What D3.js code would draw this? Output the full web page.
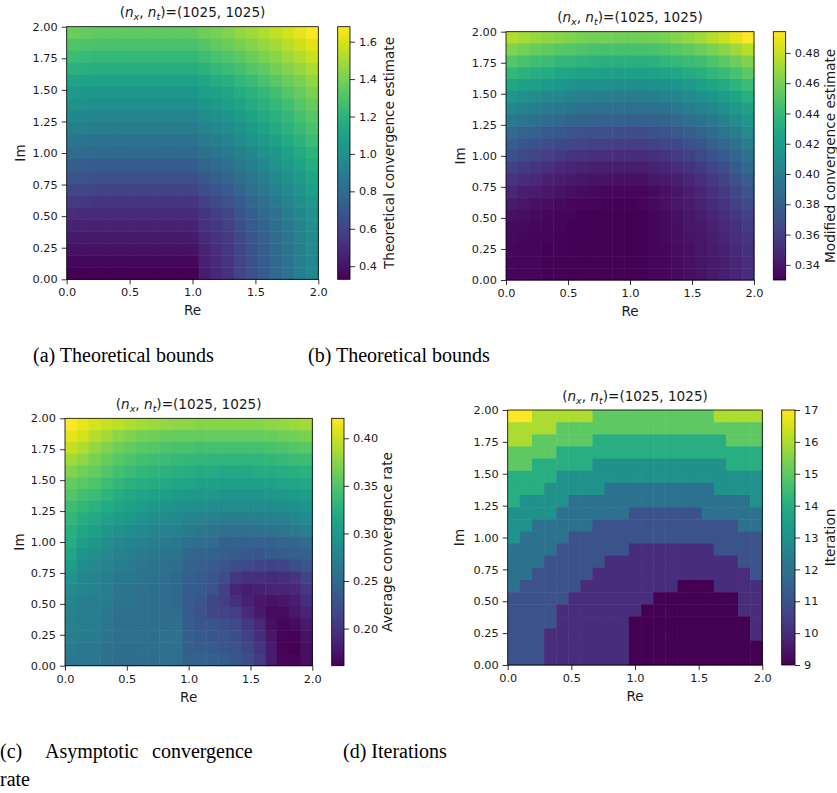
<!DOCTYPE html>
<html>
<head>
<meta charset="utf-8">
<script src="https://cdn.jsdelivr.net/npm/d3@7"></script>
<style>
body { margin: 0; background: #fff; }
svg text { font-family: "DejaVu Sans", sans-serif; fill: #1a1a1a; }
text.cap { font-family: "Liberation Serif", serif; font-size: 20px; fill: #000; }
</style>
</head>
<body>
<script>
// grid: Re along columns, Im along rows (first row = Im 2.0)
var reVals = [0.0, 0.1, 0.2, 0.3, 0.4, 0.5, 0.6, 0.7, 0.8, 0.9, 1.0, 1.1, 1.2, 1.3, 1.4, 1.5, 1.6, 1.7, 1.8, 1.9, 2.0]
var imVals = [2.0, 1.9, 1.8, 1.7, 1.6, 1.5, 1.4, 1.3, 1.2, 1.1, 1.0, 0.9, 0.8, 0.7, 0.6, 0.5, 0.4, 0.3, 0.2, 0.1, 0.0]
var reTicks = [0, 0.5, 1, 1.5, 2]
var imTicks = [0, 0.25, 0.5, 0.75, 1, 1.25, 1.5, 1.75, 2]

var theoretical = [
 [1.37,1.36,1.35,1.35,1.35,1.35,1.35,1.35,1.35,1.35,1.35,1.38,1.40,1.42,1.46,1.49,1.52,1.55,1.59,1.63,1.68],
 [1.31,1.30,1.29,1.29,1.29,1.29,1.29,1.29,1.29,1.29,1.29,1.32,1.35,1.37,1.40,1.43,1.46,1.50,1.54,1.58,1.62],
 [1.25,1.24,1.23,1.23,1.23,1.23,1.23,1.23,1.23,1.23,1.23,1.26,1.29,1.31,1.34,1.37,1.41,1.44,1.48,1.52,1.57],
 [1.19,1.18,1.17,1.17,1.17,1.17,1.17,1.17,1.17,1.17,1.17,1.20,1.23,1.25,1.28,1.32,1.35,1.39,1.43,1.47,1.51],
 [1.12,1.11,1.10,1.10,1.10,1.10,1.10,1.10,1.10,1.10,1.10,1.13,1.16,1.18,1.22,1.25,1.29,1.33,1.37,1.41,1.45],
 [1.06,1.05,1.04,1.04,1.04,1.04,1.04,1.04,1.04,1.04,1.04,1.08,1.10,1.12,1.16,1.20,1.23,1.27,1.32,1.36,1.41],
 [1.01,1.00,0.99,0.99,0.99,0.99,0.99,0.99,0.99,0.99,0.99,1.03,1.05,1.08,1.11,1.15,1.19,1.23,1.27,1.32,1.36],
 [0.96,0.95,0.94,0.94,0.94,0.94,0.94,0.94,0.94,0.94,0.94,0.98,1.00,1.03,1.07,1.11,1.15,1.19,1.23,1.28,1.32],
 [0.91,0.90,0.89,0.89,0.89,0.89,0.89,0.89,0.89,0.89,0.89,0.93,0.96,0.98,1.02,1.06,1.10,1.15,1.19,1.24,1.29],
 [0.86,0.85,0.84,0.84,0.84,0.84,0.84,0.84,0.84,0.84,0.84,0.88,0.91,0.93,0.98,1.02,1.06,1.10,1.15,1.20,1.25],
 [0.80,0.79,0.78,0.78,0.78,0.78,0.78,0.78,0.78,0.78,0.78,0.82,0.85,0.88,0.92,0.96,1.01,1.05,1.10,1.15,1.20],
 [0.74,0.73,0.72,0.72,0.72,0.72,0.72,0.72,0.72,0.72,0.72,0.76,0.79,0.82,0.87,0.91,0.96,1.01,1.06,1.11,1.16],
 [0.68,0.67,0.66,0.66,0.66,0.66,0.66,0.66,0.66,0.66,0.66,0.70,0.74,0.77,0.82,0.86,0.91,0.96,1.01,1.06,1.12],
 [0.62,0.61,0.60,0.60,0.60,0.60,0.60,0.60,0.60,0.60,0.60,0.65,0.68,0.72,0.77,0.82,0.87,0.92,0.97,1.03,1.08],
 [0.56,0.55,0.54,0.54,0.54,0.54,0.54,0.54,0.54,0.54,0.54,0.59,0.63,0.67,0.72,0.77,0.82,0.88,0.93,0.99,1.04],
 [0.50,0.49,0.49,0.49,0.49,0.49,0.49,0.49,0.49,0.49,0.49,0.54,0.58,0.62,0.68,0.73,0.79,0.84,0.90,0.96,1.01],
 [0.46,0.46,0.46,0.46,0.46,0.46,0.46,0.46,0.46,0.46,0.46,0.52,0.55,0.59,0.65,0.71,0.76,0.82,0.88,0.94,1.00],
 [0.42,0.42,0.42,0.42,0.42,0.42,0.42,0.42,0.42,0.42,0.42,0.49,0.52,0.56,0.63,0.69,0.74,0.80,0.86,0.92,0.98],
 [0.39,0.39,0.39,0.39,0.39,0.39,0.39,0.39,0.39,0.39,0.39,0.46,0.50,0.55,0.62,0.67,0.73,0.79,0.85,0.91,0.97],
 [0.36,0.36,0.36,0.36,0.36,0.36,0.36,0.36,0.36,0.36,0.36,0.45,0.49,0.54,0.60,0.66,0.72,0.78,0.84,0.90,0.96],
 [0.33,0.33,0.33,0.33,0.33,0.33,0.33,0.33,0.33,0.33,0.33,0.44,0.48,0.53,0.60,0.66,0.72,0.78,0.84,0.90,0.96]
]

var modified = [
 [0.475,0.472,0.469,0.466,0.464,0.462,0.460,0.459,0.459,0.458,0.458,0.458,0.459,0.461,0.464,0.467,0.471,0.476,0.481,0.487,0.494],
 [0.462,0.459,0.456,0.454,0.451,0.450,0.448,0.447,0.446,0.446,0.446,0.446,0.447,0.449,0.451,0.454,0.457,0.461,0.465,0.470,0.476],
 [0.450,0.447,0.444,0.442,0.439,0.438,0.436,0.435,0.434,0.434,0.434,0.434,0.435,0.437,0.439,0.441,0.444,0.448,0.452,0.457,0.463],
 [0.438,0.435,0.432,0.430,0.427,0.426,0.424,0.423,0.422,0.422,0.422,0.422,0.423,0.425,0.427,0.430,0.433,0.437,0.441,0.446,0.452],
 [0.427,0.424,0.421,0.418,0.416,0.414,0.412,0.411,0.411,0.410,0.410,0.410,0.411,0.413,0.415,0.418,0.422,0.426,0.430,0.436,0.442],
 [0.416,0.413,0.410,0.407,0.405,0.403,0.401,0.400,0.400,0.399,0.399,0.399,0.400,0.402,0.404,0.408,0.411,0.416,0.420,0.426,0.433],
 [0.406,0.403,0.400,0.397,0.395,0.393,0.391,0.390,0.390,0.389,0.389,0.389,0.390,0.392,0.395,0.398,0.402,0.406,0.411,0.417,0.424],
 [0.396,0.393,0.390,0.387,0.385,0.383,0.381,0.380,0.380,0.379,0.379,0.379,0.380,0.382,0.385,0.388,0.392,0.397,0.402,0.409,0.416],
 [0.387,0.383,0.380,0.377,0.375,0.373,0.372,0.370,0.370,0.369,0.369,0.369,0.371,0.373,0.375,0.379,0.383,0.388,0.394,0.400,0.408],
 [0.378,0.374,0.371,0.368,0.366,0.364,0.363,0.361,0.361,0.360,0.360,0.360,0.362,0.364,0.366,0.370,0.374,0.380,0.385,0.392,0.400],
 [0.370,0.366,0.363,0.360,0.357,0.355,0.354,0.352,0.352,0.351,0.351,0.351,0.353,0.355,0.358,0.361,0.366,0.371,0.377,0.384,0.392],
 [0.362,0.358,0.355,0.352,0.349,0.347,0.346,0.344,0.344,0.343,0.343,0.343,0.345,0.347,0.350,0.354,0.358,0.364,0.369,0.377,0.385],
 [0.354,0.351,0.348,0.345,0.343,0.341,0.339,0.338,0.338,0.337,0.337,0.337,0.339,0.341,0.344,0.347,0.352,0.357,0.363,0.370,0.378],
 [0.347,0.344,0.342,0.340,0.338,0.336,0.335,0.334,0.333,0.333,0.333,0.333,0.335,0.337,0.339,0.343,0.347,0.352,0.358,0.364,0.372],
 [0.341,0.339,0.337,0.336,0.334,0.333,0.332,0.332,0.331,0.331,0.331,0.332,0.334,0.336,0.339,0.342,0.346,0.350,0.355,0.361,0.367],
 [0.337,0.336,0.334,0.333,0.332,0.332,0.331,0.330,0.330,0.330,0.330,0.331,0.333,0.334,0.337,0.340,0.343,0.347,0.351,0.356,0.362],
 [0.335,0.334,0.333,0.332,0.332,0.331,0.331,0.330,0.330,0.330,0.330,0.331,0.332,0.334,0.336,0.339,0.341,0.345,0.348,0.353,0.358],
 [0.334,0.333,0.332,0.332,0.331,0.331,0.331,0.330,0.330,0.330,0.330,0.331,0.332,0.334,0.336,0.338,0.340,0.343,0.347,0.351,0.355],
 [0.333,0.332,0.332,0.331,0.331,0.331,0.330,0.330,0.330,0.330,0.330,0.331,0.332,0.333,0.335,0.337,0.339,0.342,0.345,0.349,0.353],
 [0.333,0.332,0.332,0.331,0.331,0.331,0.330,0.330,0.330,0.330,0.330,0.331,0.332,0.333,0.335,0.337,0.339,0.341,0.344,0.347,0.351],
 [0.333,0.332,0.332,0.331,0.331,0.331,0.330,0.330,0.330,0.330,0.330,0.331,0.332,0.333,0.334,0.336,0.338,0.341,0.344,0.347,0.350]
]

var average = [
 [0.421,0.413,0.405,0.400,0.395,0.390,0.385,0.382,0.379,0.377,0.377,0.374,0.374,0.374,0.374,0.374,0.374,0.377,0.379,0.382,0.385],
 [0.411,0.403,0.392,0.385,0.377,0.372,0.366,0.364,0.361,0.359,0.359,0.359,0.359,0.359,0.359,0.359,0.359,0.361,0.364,0.366,0.369],
 [0.398,0.390,0.379,0.372,0.364,0.359,0.353,0.351,0.348,0.346,0.346,0.343,0.343,0.343,0.343,0.343,0.343,0.346,0.348,0.351,0.353],
 [0.385,0.377,0.369,0.361,0.353,0.348,0.343,0.340,0.338,0.335,0.333,0.333,0.330,0.330,0.330,0.330,0.330,0.333,0.335,0.338,0.340],
 [0.372,0.364,0.359,0.351,0.343,0.338,0.333,0.330,0.327,0.325,0.322,0.320,0.320,0.317,0.317,0.317,0.320,0.320,0.322,0.325,0.327],
 [0.359,0.353,0.348,0.340,0.333,0.327,0.322,0.320,0.317,0.314,0.312,0.309,0.309,0.307,0.307,0.307,0.307,0.309,0.312,0.314,0.317],
 [0.351,0.343,0.338,0.330,0.322,0.317,0.312,0.309,0.307,0.304,0.301,0.299,0.299,0.296,0.296,0.296,0.296,0.299,0.301,0.304,0.307],
 [0.340,0.333,0.327,0.320,0.314,0.309,0.304,0.299,0.296,0.294,0.291,0.288,0.286,0.286,0.286,0.286,0.286,0.286,0.288,0.291,0.296],
 [0.333,0.322,0.317,0.309,0.304,0.299,0.294,0.288,0.286,0.283,0.278,0.275,0.273,0.270,0.270,0.270,0.270,0.273,0.275,0.281,0.286],
 [0.325,0.314,0.307,0.299,0.294,0.288,0.283,0.278,0.275,0.273,0.268,0.265,0.260,0.257,0.257,0.257,0.257,0.260,0.262,0.268,0.273],
 [0.322,0.307,0.299,0.291,0.283,0.278,0.275,0.270,0.268,0.265,0.257,0.255,0.252,0.242,0.242,0.242,0.242,0.242,0.247,0.249,0.252],
 [0.314,0.296,0.291,0.283,0.275,0.273,0.268,0.265,0.262,0.260,0.247,0.244,0.242,0.239,0.236,0.234,0.231,0.234,0.236,0.239,0.242],
 [0.304,0.288,0.283,0.278,0.270,0.268,0.262,0.260,0.255,0.252,0.242,0.239,0.236,0.229,0.221,0.218,0.213,0.210,0.213,0.221,0.229],
 [0.296,0.281,0.278,0.273,0.265,0.265,0.260,0.257,0.252,0.249,0.239,0.236,0.231,0.221,0.203,0.197,0.195,0.192,0.195,0.200,0.213],
 [0.286,0.278,0.275,0.270,0.262,0.262,0.257,0.255,0.252,0.249,0.236,0.234,0.226,0.210,0.187,0.182,0.184,0.187,0.187,0.190,0.203],
 [0.281,0.273,0.270,0.268,0.260,0.260,0.255,0.255,0.252,0.249,0.236,0.229,0.216,0.208,0.197,0.184,0.177,0.174,0.177,0.182,0.195],
 [0.275,0.270,0.270,0.265,0.257,0.257,0.255,0.255,0.252,0.252,0.234,0.226,0.216,0.213,0.208,0.192,0.179,0.169,0.169,0.177,0.187],
 [0.273,0.270,0.270,0.262,0.255,0.255,0.255,0.255,0.255,0.255,0.236,0.231,0.229,0.223,0.218,0.203,0.190,0.171,0.166,0.169,0.179],
 [0.270,0.268,0.268,0.260,0.255,0.255,0.255,0.255,0.257,0.257,0.239,0.234,0.231,0.229,0.223,0.210,0.195,0.177,0.164,0.164,0.174],
 [0.268,0.265,0.265,0.257,0.255,0.255,0.255,0.255,0.257,0.257,0.239,0.236,0.234,0.231,0.226,0.216,0.200,0.179,0.164,0.161,0.171],
 [0.265,0.265,0.265,0.255,0.252,0.252,0.252,0.252,0.255,0.255,0.242,0.242,0.239,0.236,0.231,0.221,0.205,0.182,0.166,0.164,0.171]
]

var iterations = [
 [17,17,16,16,16,16,16,15,15,15,15,15,15,15,15,15,15,16,16,16,16],
 [16,16,16,16,15,15,15,15,15,15,15,15,15,15,15,15,15,15,15,15,15],
 [16,16,15,15,15,15,15,14,14,14,14,14,14,14,14,14,14,14,15,15,15],
 [15,15,15,15,14,14,14,14,14,14,14,14,14,14,14,14,14,14,14,14,14],
 [15,15,14,14,14,14,14,13,13,13,13,13,13,13,13,13,13,13,14,14,14],
 [14,14,14,14,13,13,13,13,13,13,13,13,13,13,13,13,13,13,13,13,13],
 [14,14,14,13,13,13,13,13,12,12,12,12,12,12,12,12,12,13,13,13,13],
 [14,13,13,13,13,12,12,12,12,12,12,12,12,12,12,12,12,12,12,12,13],
 [13,13,13,13,12,12,12,12,12,12,11,11,11,11,11,11,12,12,12,12,12],
 [13,13,12,12,12,12,12,11,11,11,11,11,11,11,11,11,11,11,11,12,12],
 [13,12,12,12,12,11,11,11,11,11,11,11,11,11,11,11,11,11,11,11,11],
 [12,12,12,12,11,11,11,11,11,11,10,10,10,10,10,10,10,11,11,11,11],
 [12,12,12,11,11,11,11,11,10,10,10,10,10,10,10,10,10,10,10,11,11],
 [12,12,11,11,11,11,11,10,10,10,10,10,10,10,10,10,10,10,10,10,11],
 [12,11,11,11,11,11,10,10,10,10,10,10,10,10, 9, 9, 9,10,10,10,10],
 [11,11,11,11,11,10,10,10,10,10,10,10, 9, 9, 9, 9, 9, 9, 9,10,10],
 [11,11,11,11,10,10,10,10,10,10,10, 9, 9, 9, 9, 9, 9, 9, 9,10,10],
 [11,11,11,11,10,10,10,10,10,10, 9, 9, 9, 9, 9, 9, 9, 9, 9, 9,10],
 [11,11,11,10,10,10,10,10,10,10, 9, 9, 9, 9, 9, 9, 9, 9, 9, 9,10],
 [11,11,11,10,10,10,10,10,10,10, 9, 9, 9, 9, 9, 9, 9, 9, 9, 9, 9],
 [11,11,11,10,10,10,10,10,10,10, 9, 9, 9, 9, 9, 9, 9, 9, 9, 9, 9]
]

var ticksA = [0.4, 0.6, 0.8, 1.0, 1.2, 1.4, 1.6]
var ticksB = [0.34, 0.36, 0.38, 0.40, 0.42, 0.44, 0.46, 0.48]
var ticksC = [0.20, 0.25, 0.30, 0.35, 0.40]
var ticksD = [9, 10, 11, 12, 13, 14, 15, 16, 17]

var svg = d3.select("body").append("svg")
  .attr("width", 837)
  .attr("height", 793)

var tickFont = "11.3px"
var labelFont = "13.6px"

function styleAxis(ax) {
  ax.select(".domain").remove()
  ax.selectAll("line").attr("stroke", "#000").attr("stroke-width", 0.8)
  ax.selectAll("text")
    .attr("font-family", "DejaVu Sans, sans-serif")
    .style("font-size", tickFont)
    .attr("fill", "#1a1a1a")
}

function drawPanel(p) {
  var g = svg.append("g").attr("id", p.id)
  var xb = d3.scaleBand().domain(reVals).range([p.x0, p.x1])
  var yb = d3.scaleBand().domain(imVals).range([p.y0, p.y1])
  var xl = d3.scaleLinear().domain([0, 2]).range([p.x0, p.x1])
  var yl = d3.scaleLinear().domain([0, 2]).range([p.y1, p.y0])
  var ext = d3.extent(p.data.flat())
  var color = d3.scaleSequential(d3.interpolateViridis).domain(ext)

  var cells = []
  p.data.forEach(function(row, i) {
    row.forEach(function(v, j) {
      cells.push({re: reVals[j], im: imVals[i], v: v})
    })
  })
  g.selectAll("rect.cell").data(cells).enter().append("rect")
    .attr("class", "cell")
    .attr("x", function(d){return xb(d.re)})
    .attr("y", function(d){return yb(d.im)})
    .attr("width", xb.bandwidth() + 0.5)
    .attr("height", yb.bandwidth() + 0.5)
    .attr("fill", function(d){return color(d.v)})

  g.append("rect")
    .attr("x", p.x0).attr("y", p.y0)
    .attr("width", p.x1 - p.x0).attr("height", p.y1 - p.y0)
    .attr("fill", "none").attr("stroke", "#000").attr("stroke-width", 0.8)

  var ax = g.append("g").attr("transform", "translate(0," + p.y1 + ")")
    .call(d3.axisBottom(xl).tickValues(reTicks).tickFormat(d3.format(".1f")).tickSize(5).tickPadding(4))
  styleAxis(ax)
  var ay = g.append("g").attr("transform", "translate(" + p.x0 + ",0)")
    .call(d3.axisLeft(yl).tickValues(imTicks).tickFormat(d3.format(".2f")).tickSize(5).tickPadding(4))
  styleAxis(ay)

  // title
  var t = g.append("text")
    .attr("x", (p.x0 + p.x1) / 2).attr("y", p.y0 - 9.5)
    .attr("text-anchor", "middle")
    .style("font-size", labelFont)
  t.append("tspan").text("(")
  t.append("tspan").attr("font-style", "italic").text("n")
  t.append("tspan").attr("font-style", "italic").style("font-size", "9.5px").attr("dy", 3).text("x")
  t.append("tspan").attr("dy", -3).text(", ")
  t.append("tspan").attr("font-style", "italic").text("n")
  t.append("tspan").attr("font-style", "italic").style("font-size", "9.5px").attr("dy", 3).text("t")
  t.append("tspan").attr("dy", -3).text(")=(1025, 1025)")

  g.append("text")
    .attr("x", (p.x0 + p.x1) / 2).attr("y", p.y1 + 36)
    .attr("text-anchor", "middle")
    .style("font-size", labelFont)
    .text("Re")
  g.append("text")
    .attr("transform", "translate(" + p.imX + "," + (p.y0 + p.y1) / 2 + ") rotate(-90)")
    .attr("text-anchor", "middle").attr("dy", "0.35em")
    .style("font-size", labelFont)
    .text("Im")

  // colorbar
  var gid = "grad-" + p.id
  var grad = svg.append("defs").append("linearGradient").attr("id", gid)
    .attr("x1", 0).attr("y1", 1).attr("x2", 0).attr("y2", 0)
  grad.selectAll("stop").data(d3.range(0, 1.0001, 0.05)).enter().append("stop")
    .attr("offset", function(d){return d})
    .attr("stop-color", function(d){return d3.interpolateViridis(d)})
  g.append("rect")
    .attr("x", p.cb0).attr("y", p.y0)
    .attr("width", p.cb1 - p.cb0).attr("height", p.y1 - p.y0)
    .attr("fill", "url(#" + gid + ")")
    .attr("stroke", "#000").attr("stroke-width", 0.8)
  var cs = d3.scaleLinear().domain(ext).range([p.y1, p.y0])
  var ac = g.append("g").attr("transform", "translate(" + p.cb1 + ",0)")
    .call(d3.axisRight(cs).tickValues(p.ticks).tickFormat(d3.format(p.fmt)).tickSize(5).tickPadding(4))
  styleAxis(ac)
  g.append("text")
    .attr("transform", "translate(" + p.labelX + "," + (p.y0 + p.y1) / 2 + ") rotate(-90)")
    .attr("text-anchor", "middle").attr("dy", "0.35em")
    .style("font-size", labelFont)
    .text(p.label)
}

drawPanel({id: "a", data: theoretical, x0: 66.7, x1: 318.3, y0: 26.7, y1: 279.3, cb0: 337.7, cb1: 350,
  imX: 20, labelX: 389, ticks: ticksA, fmt: ".1f", label: "Theoretical convergence estimate"})
drawPanel({id: "b", data: modified, x0: 506, x1: 754, y0: 31.7, y1: 280, cb0: 773.3, cb1: 785.7,
  imX: 460, labelX: 830, ticks: ticksB, fmt: ".2f", label: "Modified convergence estimate"})
drawPanel({id: "c", data: average, x0: 65, x1: 312.3, y0: 418.3, y1: 665.7, cb0: 331.7, cb1: 344,
  imX: 19, labelX: 387.5, ticks: ticksC, fmt: ".2f", label: "Average convergence rate"})
drawPanel({id: "d", data: iterations, x0: 507.7, x1: 762.3, y0: 410, y1: 665, cb0: 781.7, cb1: 795,
  imX: 459, labelX: 830, ticks: ticksD, fmt: "d", label: "Iteration"})

// sub-figure captions
var captions = [
  {x: 33, y: 362, t: "(a) Theoretical bounds"},
  {x: 308, y: 362, t: "(b) Theoretical bounds"},
  {x: 0, y: 758, t: "(c)"},
  {x: 45, y: 758, t: "Asymptotic"},
  {x: 152, y: 758, t: "convergence"},
  {x: 0, y: 786, t: "rate"},
  {x: 343, y: 758, t: "(d) Iterations"}
]
svg.selectAll("text.cap").data(captions).enter().append("text")
  .attr("class", "cap")
  .attr("x", function(d){return d.x})
  .attr("y", function(d){return d.y})
  .text(function(d){return d.t})
</script>
</body>
</html>
